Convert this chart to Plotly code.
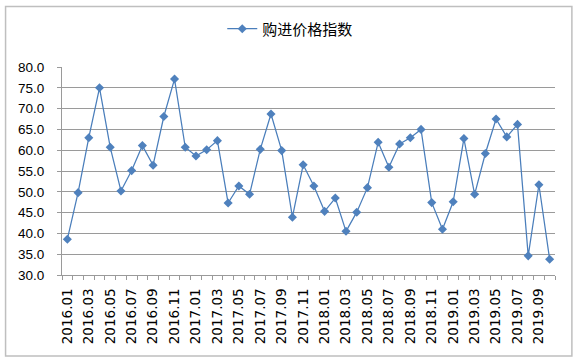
import plotly.graph_objects as go

months = [
    "2016.01","2016.02","2016.03","2016.04","2016.05","2016.06","2016.07","2016.08","2016.09","2016.10","2016.11","2016.12",
    "2017.01","2017.02","2017.03","2017.04","2017.05","2017.06","2017.07","2017.08","2017.09","2017.10","2017.11","2017.12",
    "2018.01","2018.02","2018.03","2018.04","2018.05","2018.06","2018.07","2018.08","2018.09","2018.10","2018.11","2018.12",
    "2019.01","2019.02","2019.03","2019.04","2019.05","2019.06","2019.07","2019.08","2019.09","2019.10",
]
purchase_price_index = [
    38.6, 49.8, 63.0, 75.0, 60.7, 50.2, 55.1, 61.1, 56.4, 68.1, 77.1, 60.7,
    58.6, 60.1, 62.3, 47.3, 51.4, 49.4, 60.2, 68.7, 59.9, 43.9, 56.5, 51.4,
    45.3, 48.5, 40.5, 45.1, 51.0, 61.9, 55.9, 61.5, 63.0, 65.0, 47.4, 41.0,
    47.6, 62.8, 49.4, 59.2, 67.5, 63.2, 66.2, 34.6, 51.7, 33.8,
]
series_name = "购进价格指数"
tick_text = [m if i % 2 == 0 else "" for i, m in enumerate(months)]

color = "#4A7EBB"
grid = "#9A9A9A"

fig = go.Figure()
fig.add_trace(go.Scatter(
    x=months, y=purchase_price_index, name=series_name,
    mode="lines+markers",
    line=dict(color=color, width=1.25),
    marker=dict(symbol="diamond", size=7, color="#4F81BD"),
    showlegend=True,
))

fig.update_layout(
    width=581, height=364,
    margin=dict(l=62, r=26, t=67, b=89, autoexpand=False),
    paper_bgcolor="white", plot_bgcolor="white",
    showlegend=True,
    legend=dict(orientation="h", x=0.463, xanchor="center", y=1.183, yanchor="middle",
                font=dict(family="Noto Sans CJK SC", size=15, color="#000000"),
                bgcolor="rgba(0,0,0,0)", itemwidth=30),
    xaxis=dict(
        type="category", categoryorder="array", categoryarray=months,
        tickmode="array", tickvals=months, ticktext=tick_text,
        tickson="boundaries", ticks="outside", ticklen=4, tickcolor=grid,
        tickangle=-90, showgrid=False, showline=True, linecolor=grid, linewidth=1,
        ticklabelstandoff=7,
        tickfont=dict(family="DejaVu Sans", size=13.5, color="#000000"),
        range=[-0.5, len(months) - 0.5], automargin=False,
    ),
    yaxis=dict(
        range=[30, 80], dtick=5, tick0=30, tickformat=".1f",
        showgrid=True, gridcolor=grid, gridwidth=1,
        showline=True, linecolor=grid, linewidth=1,
        ticks="outside", ticklen=4, tickcolor=grid,
        zeroline=False, ticklabelstandoff=10, automargin=False,
        tickfont=dict(family="Liberation Sans", size=13.5, color="#000000"),
    ),
    shapes=[dict(type="rect", xref="paper", yref="paper",
                 x0=(5.5 - 62) / 493.6, x1=(572.5 - 62) / 493.6,
                 y0=(275 - 356) / 208, y1=(275 - 6.5) / 208,
                 line=dict(color="#BFBFBF", width=1.5), layer="below")],
)

fig.write_html("out.html", config={"displayModeBar": False},
               post_script="document.body.style.margin='0';document.body.style.overflow='hidden';")
